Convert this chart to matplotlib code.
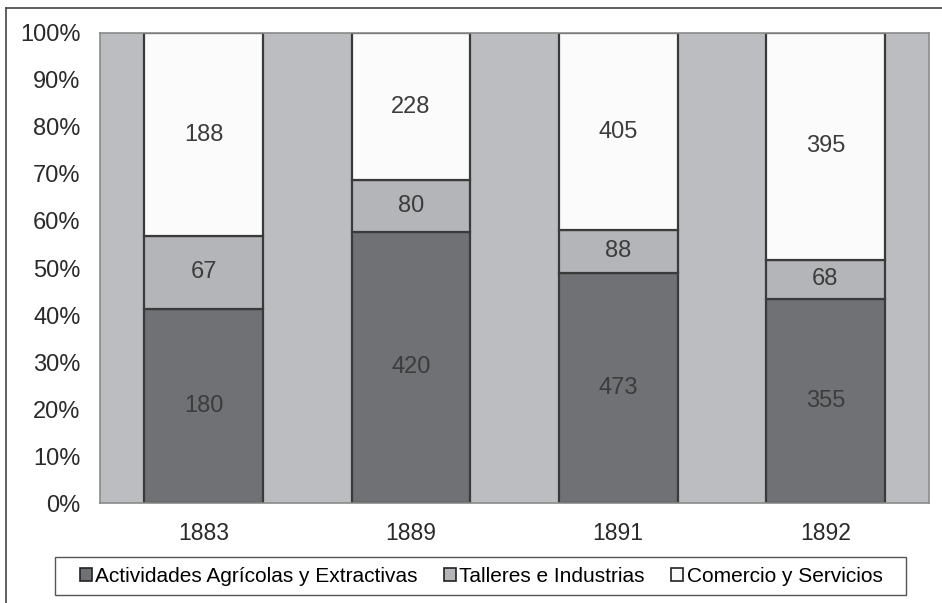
import matplotlib.pyplot as plt
import numpy as np
from matplotlib.lines import Line2D
from matplotlib.patches import Rectangle

plt.rcParams['font.family'] = ['Liberation Sans', 'DejaVu Sans']

years = ['1883', '1889', '1891', '1892']
agricolas = [180, 420, 473, 355]
talleres = [67, 80, 88, 68]
comercio = [188, 228, 405, 395]
series_names = ['Actividades Agrícolas y Extractivas', 'Talleres e Industrias', 'Comercio y Servicios']
colors = ['#707175', '#b4b5b8', '#fbfbfb']

counts = np.array([agricolas, talleres, comercio], dtype=float)
pct = counts / counts.sum(axis=0) * 100

fig = plt.figure(figsize=(9.42, 6.03), dpi=100)
ax = fig.add_axes([0.1062, 0.1658, 0.880, 0.7795])
ax.set_facecolor('#bcbdc0')

x = np.arange(len(years))
bottom = np.zeros(len(years))
for i in range(3):
    bars = ax.bar(x, pct[i], 0.573, bottom=bottom, color=colors[i],
                  edgecolor='#3a3a3a', linewidth=1.6, label=series_names[i], zorder=2)
    ax.bar_label(bars, labels=[str(int(v)) for v in counts[i]], label_type='center',
                 fontsize=17, color='#3c3c3c')
    bottom += pct[i]

ax.set_xlim(-0.5, len(years) - 0.5)
ax.set_ylim(0, 100)
ax.set_yticks(np.arange(0, 101, 10))
ax.set_yticklabels([f'{v}%' for v in range(0, 101, 10)])
ax.set_xticks(x)
ax.set_xticklabels(years)
ax.tick_params(length=0, colors='#2a2a2a')
ax.tick_params(axis='y', pad=14, labelsize=17)
ax.tick_params(axis='x', pad=14, labelsize=16.5)
for s in ax.spines.values():
    s.set_color('#8a8a8a')
    s.set_linewidth(1.2)

leg = fig.legend(loc='center', bbox_to_anchor=(481 / 942, 1 - 576 / 603), ncol=3,
                 fontsize=15, handlelength=0.6, handleheight=0.6, handletextpad=0.15,
                 columnspacing=1.25, frameon=False)
for h in leg.legend_handles:
    h.set_edgecolor('#222222')
    h.set_linewidth(1.2)

# legend box
fig.add_artist(Rectangle((55 / 942, 1 - 595 / 603), 851 / 942, 38 / 603,
                         transform=fig.transFigure, fill=False,
                         edgecolor='#555555', linewidth=1.0))

# outer border
fig.add_artist(Line2D([6 / 942, 6 / 942], [0, 1 - 8 / 603], transform=fig.transFigure,
                      color='#444444', linewidth=1.2))
fig.add_artist(Line2D([6 / 942, 1], [1 - 8 / 603, 1 - 8 / 603], transform=fig.transFigure,
                      color='#444444', linewidth=1.2))

fig.savefig('out.png', dpi=100)
